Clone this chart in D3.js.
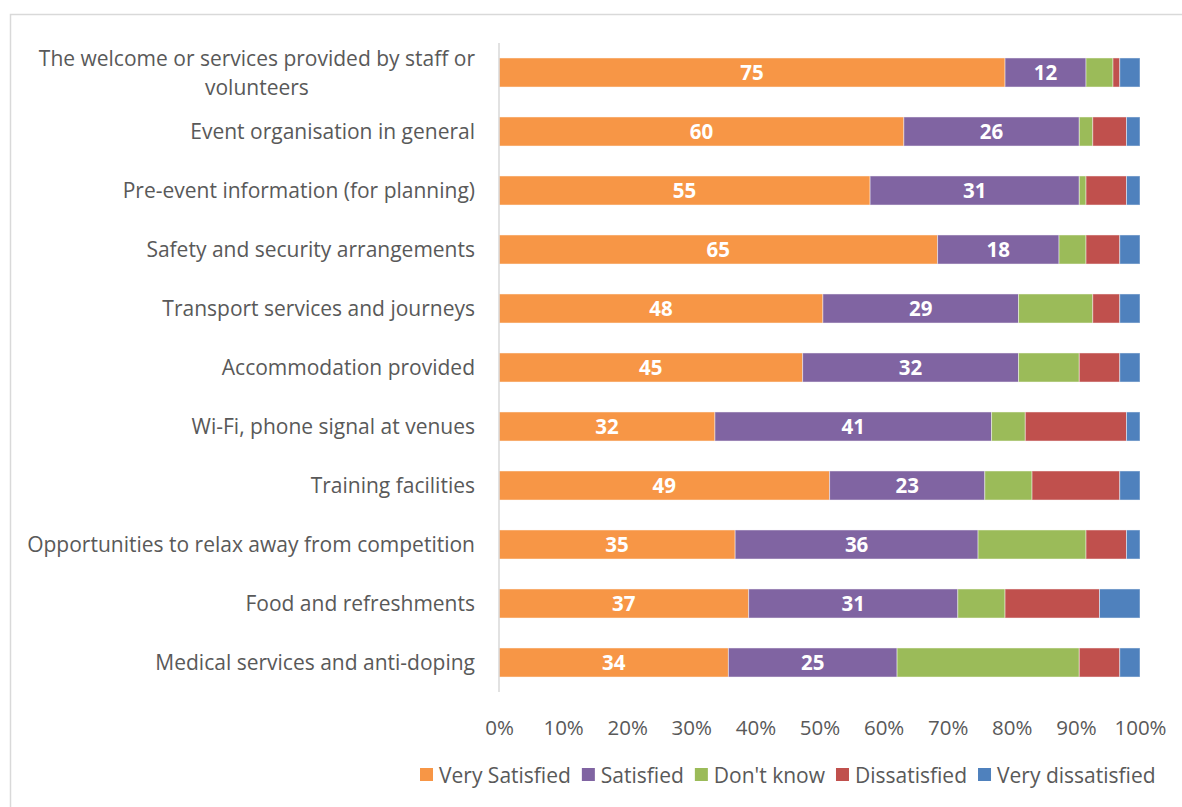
<!DOCTYPE html>
<html>
<head>
<meta charset="utf-8">
<script src="https://cdn.jsdelivr.net/npm/d3@7"></script>
<style>
    body { margin: 0; background: #ffffff; }
    text { font-family: "Open Sans", sans-serif; }
</style>
</head>
<body>
<script>
// Survey responses (counts) per category, stacked to 100%
var categories = [
    "The welcome or services provided by staff or volunteers",
    "Event organisation in general",
    "Pre-event information (for planning)",
    "Safety and security arrangements",
    "Transport services and journeys",
    "Accommodation provided",
    "Wi-Fi, phone signal at venues",
    "Training facilities",
    "Opportunities to relax away from competition",
    "Food and refreshments",
    "Medical services and anti-doping"
];
var seriesNames = ["Very Satisfied", "Satisfied", "Don't know",
    "Dissatisfied", "Very dissatisfied"];
var verySatisfied    = [75, 60, 55, 65, 48, 45, 32, 49, 35, 37, 34];
var satisfied        = [12, 26, 31, 18, 29, 32, 41, 23, 36, 31, 25];
var dontKnow         = [4, 2, 1, 4, 11, 9, 5, 7, 16, 7, 27];
var dissatisfied     = [1, 5, 6, 5, 4, 6, 15, 13, 6, 14, 6];
var veryDissatisfied = [3, 2, 2, 3, 3, 3, 2, 3, 2, 6, 3];
var xTicks = [0, 0.1, 0.2, 0.3, 0.4, 0.5, 0.6, 0.7, 0.8, 0.9, 1];

var colors = ["#F79646", "#8064A2", "#9BBB59", "#C0504D", "#4F81BD"];
var allSeries = [verySatisfied, satisfied, dontKnow, dissatisfied,
    veryDissatisfied];

var W = 1182, H = 807;
var margin = {top: 43, left: 499, right: 42};
var plotW = W - margin.left - margin.right;
var plotH = 649;

var svg = d3.select("body").append("svg")
    .attr("width", W)
    .attr("height", H);

// frame of the chart object
svg.append("rect")
    .attr("x", 10.5).attr("y", 14.5)
    .attr("width", W).attr("height", H)
    .attr("fill", "#ffffff")
    .attr("stroke", "#d9d9d9")
    .attr("stroke-width", 1.5);

var rows = categories.map(function (c, i) {
    var r = {cat: c};
    seriesNames.forEach(function (s, j) { r[s] = allSeries[j][i]; });
    return r;
});

var stacked = d3.stack()
    .keys(seriesNames)
    .offset(d3.stackOffsetExpand)(rows);

var xScale = d3.scaleLinear().domain([0, 1]).range([0, plotW]);
var yScale = d3.scaleBand().domain(categories).range([0, plotH])
    .paddingInner(0.508).paddingOuter(0.254);

var g = svg.append("g")
    .attr("transform", "translate(" + margin.left + "," + margin.top + ")");

var layers = g.selectAll("g.layer")
    .data(stacked)
    .enter().append("g")
    .attr("class", "layer")
    .attr("fill", function (d, i) { return colors[i]; });

layers.selectAll("rect")
    .data(function (d) { return d; })
    .enter().append("rect")
    .attr("x", function (d) { return xScale(d[0]); })
    .attr("y", function (d) { return yScale(d.data.cat); })
    .attr("width", function (d) { return xScale(d[1]) - xScale(d[0]); })
    .attr("height", yScale.bandwidth())
    .attr("stroke", "rgba(255,255,255,0.45)")
    .attr("stroke-width", 1);

// value labels on the first two series
stacked.slice(0, 2).forEach(function (layer) {
    g.selectAll(null)
        .data(layer)
        .enter().append("text")
        .attr("x", function (d) { return (xScale(d[0]) + xScale(d[1])) / 2; })
        .attr("y", function (d) {
            return yScale(d.data.cat) + yScale.bandwidth() / 2;
        })
        .attr("dy", "0.36em")
        .attr("text-anchor", "middle")
        .attr("fill", "#ffffff")
        .attr("font-weight", "bold")
        .attr("font-size", "20.5px")
        .text(function (d) { return d.data[layer.key]; });
});

// vertical category axis line
g.append("line")
    .attr("x1", 0).attr("x2", 0)
    .attr("y1", 0).attr("y2", plotH)
    .attr("stroke", "#d9d9d9")
    .attr("stroke-width", 1.5);

// category labels; the long first one wraps onto two centred lines
var catSize = 21;
var catLabels = g.selectAll("text.cat")
    .data(categories)
    .enter().append("text")
    .attr("class", "cat")
    .attr("text-anchor", "end")
    .attr("fill", "#595959")
    .attr("font-size", catSize + "px")
    .attr("y", function (d) { return yScale(d) + yScale.bandwidth() / 2; });

catLabels.each(function (d) {
    var t = d3.select(this);
    if (d.length <= 46) {
        t.append("tspan").attr("x", -24).attr("dy", "0.36em").text(d);
        return;
    }
    var lines = ["The welcome or services provided by staff or",
        "volunteers"];
    var first = t.append("tspan").attr("x", -24).text(lines[0]);
    var w = first.node().getComputedTextLength();
    t.attr("text-anchor", "middle");
    first.attr("x", -24 - w / 2).attr("dy", (0.36 - 14.5 / catSize) + "em");
    t.append("tspan")
        .attr("x", -24 - w / 2)
        .attr("dy", (29 / catSize) + "em")
        .text(lines[1]);
});

// percentage axis
var xAxis = d3.axisBottom(xScale)
    .tickValues(xTicks)
    .tickFormat(d3.format(".0%"))
    .tickSize(0)
    .tickPadding(0);

var ax = g.append("g")
    .attr("transform", "translate(0," + (plotH + 28) + ")")
    .call(xAxis);
ax.select(".domain").remove();
ax.selectAll("text")
    .attr("font-size", "20.5px")
    .attr("fill", "#595959")
    .attr("font-family", "Open Sans, sans-serif");

// legend, laid out left to right from measured text widths
var legend = svg.append("g").attr("transform", "translate(420,775)");
var lx = 0;
seriesNames.forEach(function (name, i) {
    var item = legend.append("g").attr("transform", "translate(" + lx + ",0)");
    item.append("rect")
        .attr("x", 0).attr("y", -7)
        .attr("width", 13).attr("height", 13)
        .attr("fill", colors[i]);
    var txt = item.append("text")
        .attr("x", 19)
        .attr("dy", "0.36em")
        .attr("font-size", "21px")
        .attr("fill", "#595959")
        .text(name);
    lx += 19 + txt.node().getComputedTextLength() + 11;
});
</script>
</body>
</html>
